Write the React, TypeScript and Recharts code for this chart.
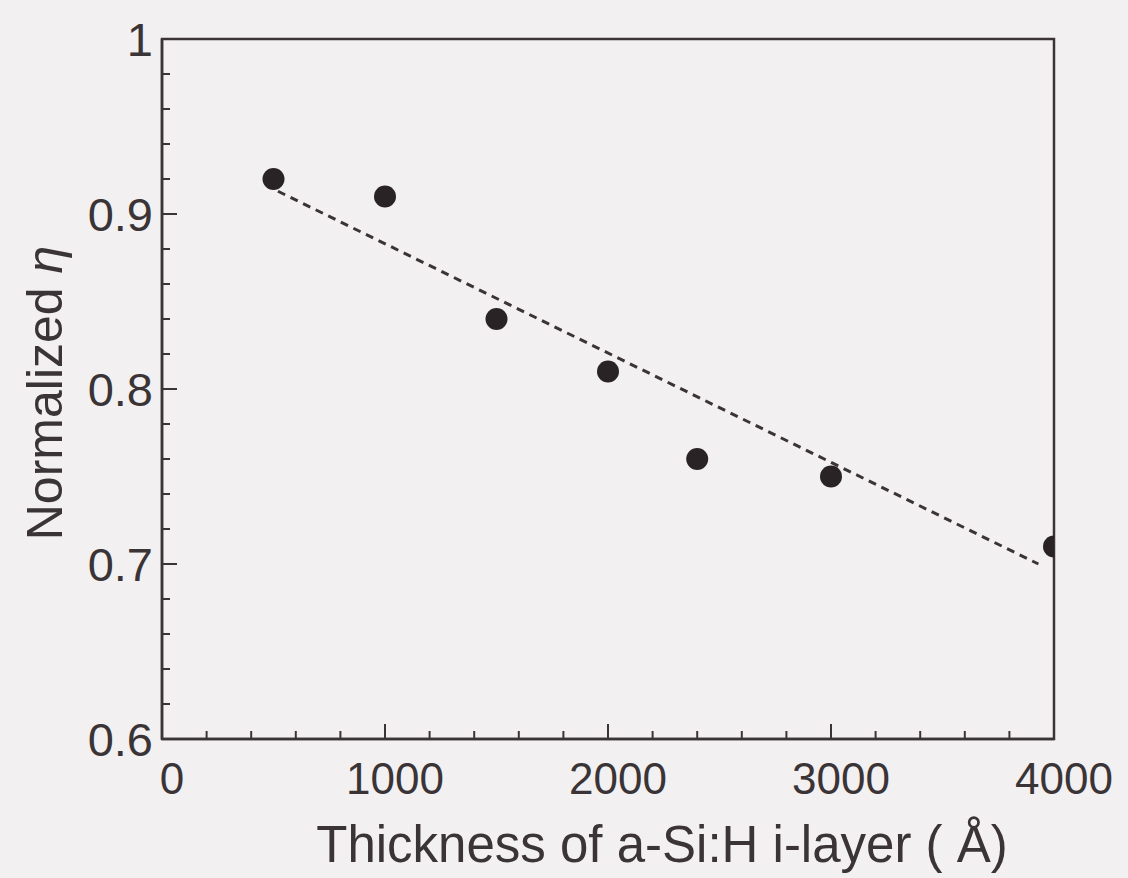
import { ComposedChart, Scatter, Line, XAxis, YAxis, ReferenceArea } from 'recharts';

// measured points
const thickness = [500, 1000, 1500, 2000, 2400, 3000, 4000];
const efficiency = [0.92, 0.91, 0.84, 0.81, 0.76, 0.75, 0.71];

// dashed fit line (start / end)
const fitX = [520, 3930];
const fitY = [0.913, 0.7];

const xTicks = [0, 200, 400, 600, 800, 1000, 1200, 1400, 1600, 1800, 2000, 2200, 2400, 2600, 2800, 3000, 3200, 3400, 3600, 3800, 4000];
const xMajor = [0, 1000, 2000, 3000, 4000];
const yTicks = [0.6, 0.62, 0.64, 0.66, 0.68, 0.7, 0.72, 0.74, 0.76, 0.78, 0.8, 0.82, 0.84, 0.86, 0.88, 0.9, 0.92, 0.94, 0.96, 0.98, 1];
const yMajor = [0.6, 0.7, 0.8, 0.9, 1];

const ink = '#3a3436';
const font = '"Liberation Sans", Arial, sans-serif';

const points = thickness.map((t, i) => ({ x: t, y: efficiency[i] }));
const fit = fitX.map((t, i) => ({ x: t, y: fitY[i] }));

const isMajor = (list: number[], v: number) => list.some(m => Math.abs(m - v) < 1e-6);

function XTick({ x, y, payload }: any) {
  const major = isMajor(xMajor, payload.value);
  return (
    <g>
      <line x1={x} x2={x} y1={y} y2={y - (major ? 15 : 8)} stroke={ink} strokeWidth={2} />
      {major && (
        <text x={x + 10} y={y + 55} textAnchor="middle" fontSize={44} fontFamily={font} fill={ink}>
          {payload.value}
        </text>
      )}
    </g>
  );
}

function YTick({ x, y, payload }: any) {
  const major = isMajor(yMajor, payload.value);
  const v = payload.value;
  const label = v === 1 ? '1' : v.toFixed(1);
  return (
    <g>
      <line x1={x} x2={x + (major ? 15 : 8)} y1={y} y2={y} stroke={ink} strokeWidth={2} />
      {major && (
        <text x={x - 9} y={y + 17} textAnchor="end" fontSize={47} fontFamily={font} fill={ink}>
          {label}
        </text>
      )}
    </g>
  );
}

function XLabel({ viewBox }: any) {
  const cx = viewBox.x + viewBox.width / 2 + 54;
  return (
    <text x={cx} y={viewBox.y + 123} textAnchor="middle" fontSize={51} fontFamily={font} fill={ink}>
      Thickness of a-Si:H i-layer ( Å)
    </text>
  );
}

function YLabel({ viewBox }: any) {
  const cy = viewBox.y + viewBox.height / 2 + 4;
  const cx = 62;
  return (
    <text x={cx} y={cy} transform={`rotate(-90 ${cx} ${cy})`} textAnchor="middle" fontSize={50} fontFamily={font} fill={ink}>
      Normalized <tspan fontStyle="italic">η</tspan>
    </text>
  );
}

export default function App() {
  return (
    <div style={{ position: 'absolute', left: 0, top: 0, width: 1128, height: 878, background: '#f2f0f0' }}>
      <ComposedChart width={1128} height={878} margin={{ top: 39, right: 74, bottom: 0, left: 0 }}>
        <XAxis
          type="number"
          dataKey="x"
          domain={[0, 4000]}
          ticks={xTicks}
          interval={0}
          height={139}
          tickSize={0}
          tickMargin={0}
          tickLine={false}
          axisLine={{ stroke: ink, strokeWidth: 2.5 }}
          tick={<XTick />}
          label={<XLabel />}
          allowDataOverflow
        />
        <YAxis
          type="number"
          dataKey="y"
          domain={[0.6, 1]}
          ticks={yTicks}
          interval={0}
          width={162}
          tickSize={0}
          tickMargin={0}
          tickLine={false}
          axisLine={{ stroke: ink, strokeWidth: 2.5 }}
          tick={<YTick />}
          label={<YLabel />}
          allowDataOverflow
        />
        <ReferenceArea x1={0} x2={4000} y1={0.6} y2={1} fill="none" stroke={ink} strokeWidth={2.5} />
        <Line
          data={fit}
          dataKey="y"
          type="linear"
          stroke={ink}
          strokeWidth={3}
          strokeDasharray="8 6"
          dot={false}
          isAnimationActive={false}
        />
        <Scatter data={points} dataKey="y" fill="#2a2326" shape={(p: any) => <circle cx={p.cx} cy={p.cy} r={11} fill="#2a2326" />} isAnimationActive={false} />
      </ComposedChart>
    </div>
  );
}
